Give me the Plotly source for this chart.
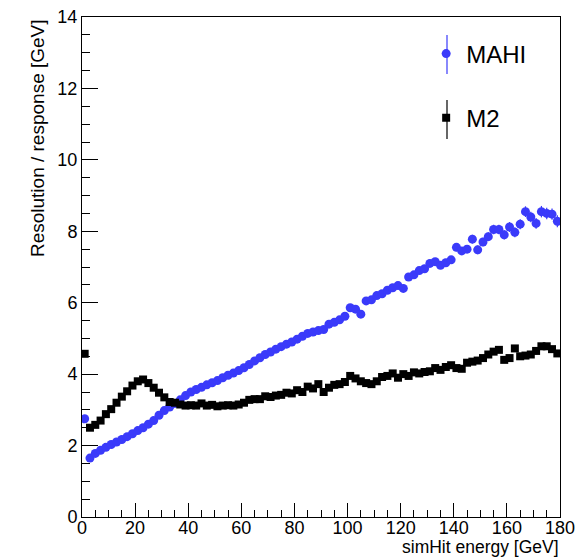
import plotly.graph_objects as go

energy = [1, 3, 5, 7, 9, 11, 13, 15, 17, 19, 21, 23, 25, 27, 29, 31, 33, 35, 37, 39,
          41, 43, 45, 47, 49, 51, 53, 55, 57, 59, 61, 63, 65, 67, 69, 71, 73, 75, 77, 79,
          81, 83, 85, 87, 89, 91, 93, 95, 97, 99, 101, 103, 105, 107, 109, 111, 113, 115, 117, 119,
          121, 123, 125, 127, 129, 131, 133, 135, 137, 139, 141, 143, 145, 147, 149, 151, 153, 155, 157, 159,
          161, 163, 165, 167, 169, 171, 173, 175, 177, 179]

mahi = [2.75, 1.65, 1.78, 1.87, 1.95, 2.03, 2.10, 2.17, 2.25, 2.33,
        2.42, 2.50, 2.60, 2.70, 2.85, 2.98, 3.08, 3.18, 3.28, 3.40,
        3.50, 3.57, 3.63, 3.70, 3.76, 3.82, 3.90, 3.97, 4.03, 4.10,
        4.18, 4.27, 4.37, 4.46, 4.55, 4.62, 4.70, 4.77, 4.84, 4.90,
        4.98, 5.06, 5.14, 5.18, 5.22, 5.25, 5.40, 5.45, 5.52, 5.62,
        5.86, 5.82, 5.68, 6.05, 6.08, 6.20, 6.25, 6.35, 6.42, 6.48,
        6.40, 6.72, 6.78, 6.90, 6.95, 7.10, 7.15, 7.05, 7.12, 7.20,
        7.55, 7.45, 7.50, 7.78, 7.48, 7.70, 7.85, 8.05, 8.05, 7.90,
        8.12, 7.97, 8.20, 8.55, 8.40, 8.22, 8.55, 8.50, 8.48, 8.28]

mahi_err = [0.03, 0.02, 0.02, 0.02, 0.02, 0.02, 0.02, 0.02, 0.02, 0.02,
            0.03, 0.03, 0.03, 0.03, 0.03, 0.03, 0.03, 0.03, 0.03, 0.03,
            0.04, 0.04, 0.04, 0.04, 0.04, 0.04, 0.04, 0.04, 0.04, 0.04,
            0.05, 0.05, 0.05, 0.05, 0.05, 0.05, 0.05, 0.05, 0.05, 0.05,
            0.06, 0.06, 0.06, 0.06, 0.06, 0.06, 0.06, 0.06, 0.06, 0.06,
            0.07, 0.07, 0.07, 0.07, 0.07, 0.08, 0.08, 0.08, 0.08, 0.08,
            0.09, 0.09, 0.09, 0.09, 0.09, 0.10, 0.10, 0.10, 0.10, 0.10,
            0.11, 0.11, 0.11, 0.12, 0.12, 0.12, 0.12, 0.13, 0.13, 0.13,
            0.14, 0.14, 0.14, 0.15, 0.15, 0.15, 0.16, 0.16, 0.16, 0.17]

m2 = [4.57, 2.50, 2.58, 2.70, 2.88, 3.02, 3.20, 3.37, 3.52, 3.68,
      3.80, 3.85, 3.75, 3.62, 3.48, 3.35, 3.22, 3.20, 3.15, 3.12,
      3.13, 3.12, 3.18, 3.12, 3.14, 3.10, 3.12, 3.13, 3.12, 3.15,
      3.20, 3.28, 3.30, 3.30, 3.38, 3.36, 3.40, 3.42, 3.48, 3.46,
      3.55, 3.50, 3.65, 3.60, 3.72, 3.50, 3.62, 3.70, 3.72, 3.78,
      3.95, 3.88, 3.80, 3.75, 3.72, 3.80, 3.92, 3.95, 4.02, 3.90,
      4.00, 3.95, 4.05, 4.02, 4.06, 4.08, 4.17, 4.12, 4.20, 4.25,
      4.17, 4.15, 4.32, 4.35, 4.38, 4.45, 4.55, 4.63, 4.68, 4.40,
      4.45, 4.72, 4.50, 4.52, 4.55, 4.65, 4.78, 4.78, 4.70, 4.58]

m2_err = [0.03, 0.02, 0.02, 0.02, 0.02, 0.02, 0.02, 0.02, 0.02, 0.02,
          0.02, 0.02, 0.02, 0.02, 0.02, 0.02, 0.02, 0.02, 0.02, 0.02,
          0.03, 0.03, 0.03, 0.03, 0.03, 0.03, 0.03, 0.03, 0.03, 0.03,
          0.03, 0.03, 0.03, 0.03, 0.03, 0.03, 0.03, 0.03, 0.03, 0.03,
          0.04, 0.04, 0.04, 0.04, 0.04, 0.04, 0.04, 0.04, 0.04, 0.04,
          0.04, 0.04, 0.04, 0.04, 0.04, 0.05, 0.05, 0.05, 0.05, 0.05,
          0.05, 0.05, 0.05, 0.05, 0.05, 0.06, 0.06, 0.06, 0.06, 0.06,
          0.06, 0.06, 0.06, 0.07, 0.07, 0.07, 0.07, 0.07, 0.07, 0.07,
          0.08, 0.08, 0.08, 0.08, 0.08, 0.09, 0.09, 0.09, 0.09, 0.09]

BLUE = "rgb(58,58,250)"
FONT = "Liberation Sans, Arial, Helvetica, sans-serif"

fig = go.Figure()
fig.add_trace(go.Scatter(
    x=energy, y=mahi, mode="markers", name="MAHI", legendgroup="a",
    marker=dict(symbol="circle", size=9, color=BLUE, line=dict(width=0)),
    error_y=dict(type="data", array=mahi_err, color=BLUE, thickness=1.2, width=0),
))
fig.add_trace(go.Scatter(
    x=energy, y=m2, mode="markers", name="M2", legendgroup="b",
    marker=dict(symbol="square", size=8, color="black", line=dict(width=0)),
    error_y=dict(type="data", array=m2_err, color="black", thickness=1.2, width=0),
))

axis_common = dict(
    showline=True, linecolor="black", linewidth=1, mirror=True,
    ticks="inside", tickcolor="black", tickwidth=1,
    showgrid=False, zeroline=False, automargin=False,
    tickfont=dict(family=FONT, size=18, color="black"),
)

fig.update_xaxes(range=[0, 180], tick0=0, dtick=20, ticklen=14, ticklabelstandoff=-6,
                 minor=dict(ticks="inside", dtick=5, ticklen=7, tickcolor="black", showgrid=False),
                 **axis_common)
fig.update_yaxes(range=[0, 14], tick0=0, dtick=2, ticklen=16,
                 minor=dict(ticks="inside", dtick=0.5, ticklen=8, tickcolor="black", showgrid=False),
                 **axis_common)

# legend error-bar strokes (decoration of the legend symbols)
leg_x = 0.7636
shapes = [
    dict(type="line", xref="paper", yref="paper", x0=leg_x, x1=leg_x, y0=0.886, y1=0.964,
         line=dict(color=BLUE, width=1.2)),
    dict(type="line", xref="paper", yref="paper", x0=leg_x, x1=leg_x, y0=0.756, y1=0.834,
         line=dict(color="black", width=1.2)),
]

fig.update_layout(
    width=576, height=560,
    margin=dict(l=82, r=16, t=17, b=43, autoexpand=False),
    paper_bgcolor="white", plot_bgcolor="white",
    font=dict(family=FONT, color="black"),
    showlegend=True,
    legend=dict(x=0.72, y=0.971, xanchor="left", yanchor="top",
                font=dict(family=FONT, size=24, color="black"),
                bgcolor="rgba(0,0,0,0)", tracegroupgap=30, itemwidth=30),
    shapes=shapes,
    annotations=[
        dict(text="simHit energy [GeV]", xref="paper", yref="paper", x=1.0, y=-0.082,
             xanchor="right", yanchor="bottom", showarrow=False, borderpad=0,
             font=dict(family=FONT, size=17.5, color="black")),
        dict(text="Resolution / response [GeV]", xref="paper", yref="paper", x=-0.094, y=1.0,
             xanchor="center", yanchor="top", textangle=-90, showarrow=False,
             font=dict(family=FONT, size=19, color="black")),
    ],
)

fig.write_html("out.html")
